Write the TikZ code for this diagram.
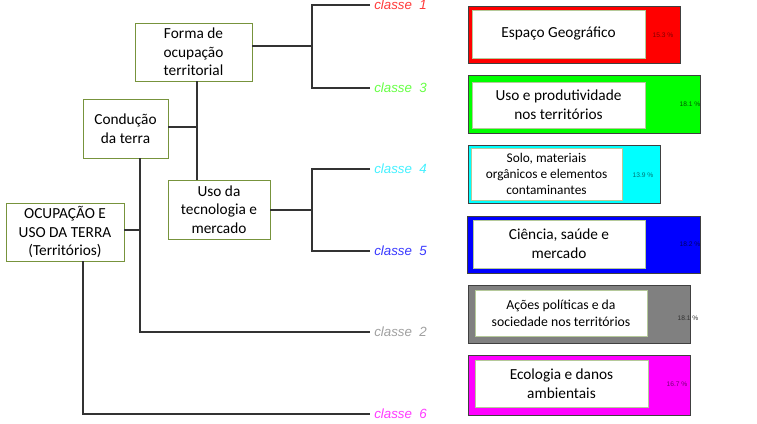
\documentclass[tikz,border=0pt]{standalone}
\usepackage{fontspec}
\setmainfont{Carlito}
\newfontfamily\arialfont{Liberation Sans}
\definecolor{boxgreen}{HTML}{77933C}
\definecolor{linegray}{HTML}{333333}
\definecolor{bargray}{HTML}{404040}
\definecolor{wboxline}{HTML}{B5C99A}
\definecolor{cred}{HTML}{FF0000}
\definecolor{cgreen}{HTML}{00FF00}
\definecolor{ccyan}{HTML}{00FFFF}
\definecolor{cblue}{HTML}{0000FF}
\definecolor{cgrey}{HTML}{808080}
\definecolor{cmag}{HTML}{FF00FF}
\definecolor{lred}{HTML}{FF3A3A}
\definecolor{lgreen}{HTML}{66FF44}
\definecolor{lcyan}{HTML}{44F0FF}
\definecolor{lblue}{HTML}{3838FF}
\definecolor{lgrey}{HTML}{A0A0A0}
\definecolor{lmag}{HTML}{FF3AFF}
\begin{document}
\begin{tikzpicture}[x=0.75pt,y=-0.75pt,
  tbox/.style={draw=boxgreen, line width=0.6pt, align=center, inner sep=0pt,
    font=\fontsize{11.5}{14}\selectfont},
  conn/.style={draw=linegray, line width=1.1pt},
  cls/.style={anchor=west, inner ysep=0pt, inner xsep=3pt, font=\arialfont\itshape\fontsize{10}{11}\selectfont},
  bar/.style={draw=bargray, line width=0.6pt, inner sep=0pt},
  wbox/.style={fill=white, draw=wboxline, line width=0.4pt, align=center, inner sep=0pt},
  pct/.style={inner sep=0pt, font=\arialfont\fontsize{5}{6}\selectfont}]
\useasboundingbox (0,0) rectangle (757,424);

% left tree boxes
\node[tbox, minimum width=117*0.75pt, minimum height=58*0.75pt] (forma) at (193.5,52) {Forma de\\ocupação\\territorial};
\node[tbox, minimum width=85*0.75pt, minimum height=59*0.75pt] (cond) at (125.5,128.5) {Condução\\da terra};
\node[tbox, minimum width=102*0.75pt, minimum height=59*0.75pt] (uso) at (219,209.5) {Uso da\\tecnologia e\\mercado};
\node[tbox, minimum width=118*0.75pt, minimum height=58*0.75pt] (ocup) at (65,232) {OCUPAÇÃO E\\USO DA TERRA\\(Territórios)};

% class labels
\node[cls, text=lred] (k1) at (370,5) {classe\ \ 1};
\node[cls, text=lgreen] (k3) at (370,88) {classe\ \ 3};
\node[cls, text=lcyan] (k4) at (370,169) {classe\ \ 4};
\node[cls, text=lblue] (k5) at (370,251) {classe\ \ 5};
\node[cls, text=lgrey] (k2) at (370,332) {classe\ \ 2};
\node[cls, text=lmag] (k6) at (370,414) {classe\ \ 6};

% junctions
\coordinate (j1) at (312,46);
\coordinate (j2) at (197,127);
\coordinate (j3) at (312,210);
\coordinate (j4) at (140,230);
\coordinate (j5) at (83,414);

% connectors
\draw[conn] (j1 -| forma.east) -- (j1);
\draw[conn] (k1.west) -| (j1) |- (k3.west);
\draw[conn] (j2 |- forma.south) -- (j2 |- uso.north);
\draw[conn] (cond.east |- j2) -- (j2);
\draw[conn] (j3 -| uso.east) -- (j3);
\draw[conn] (k4.west) -| (j3) |- (k5.west);
\draw[conn] (j4 |- cond.south) |- (k2.west);
\draw[conn] (ocup.east |- j4) -- (j4);
\draw[conn] (j5 |- ocup.south) |- (k6.west);

% right bars
\node[bar, fill=cred, minimum width=212*0.75pt, minimum height=57*0.75pt] (b1) at (574,34.5) {};
\node[wbox, minimum width=173*0.75pt, minimum height=48*0.75pt, font=\fontsize{11.5}{14}\selectfont] (w1) at (558.5,34) {Espaço Geográfico};
\node[pct, text=cred!50!black] (p1) at (663,35) {15.3 \%};

\node[bar, fill=cgreen, minimum width=232*0.75pt, minimum height=58*0.75pt] (b3) at (584,104) {};
\node[wbox, minimum width=173*0.75pt, minimum height=46*0.75pt, font=\fontsize{11.5}{14}\selectfont] (w3) at (558.5,105) {Uso e produtividade\\nos territórios};
\node[pct, text=cgreen!35!black] (p3) at (690,104) {18.1 \%};

\node[bar, fill=ccyan, minimum width=192*0.75pt, minimum height=58*0.75pt] (b4) at (564,174) {};
\node[wbox, minimum width=151*0.75pt, minimum height=52*0.75pt, font=\fontsize{10}{11.8}\selectfont] (w4) at (546.5,174) {Solo, materiais\\orgânicos e elementos\\contaminantes};
\node[pct, text=ccyan!45!black] (p4) at (643,175) {13.9 \%};

\node[bar, fill=cblue, minimum width=233*0.75pt, minimum height=57*0.75pt] (b5) at (583.5,244.5) {};
\node[wbox, minimum width=172*0.75pt, minimum height=48*0.75pt, font=\fontsize{11.5}{14}\selectfont] (w5) at (559,244) {Ciência, saúde e\\mercado};
\node[pct, text=cblue!40!black] (p5) at (690,244) {18.2 \%};

\node[bar, fill=cgrey, minimum width=222*0.75pt, minimum height=58*0.75pt] (b2) at (579,314) {};
\node[wbox, minimum width=172*0.75pt, minimum height=46*0.75pt, font=\fontsize{10.3}{12.8}\selectfont] (w2) at (561,313) {Ações políticas e da\\sociedade nos territórios};
\node[pct, text=black!80] (p2) at (688,318) {18.1 \%};

\node[bar, fill=cmag, minimum width=222*0.75pt, minimum height=60*0.75pt] (b6) at (579,385) {};
\node[wbox, minimum width=173*0.75pt, minimum height=47*0.75pt, font=\fontsize{11.5}{14}\selectfont] (w6) at (561.5,383.5) {Ecologia e danos\\ambientais};
\node[pct, text=cmag!45!black] (p6) at (677,384) {16.7 \%};
\end{tikzpicture}
\end{document}
